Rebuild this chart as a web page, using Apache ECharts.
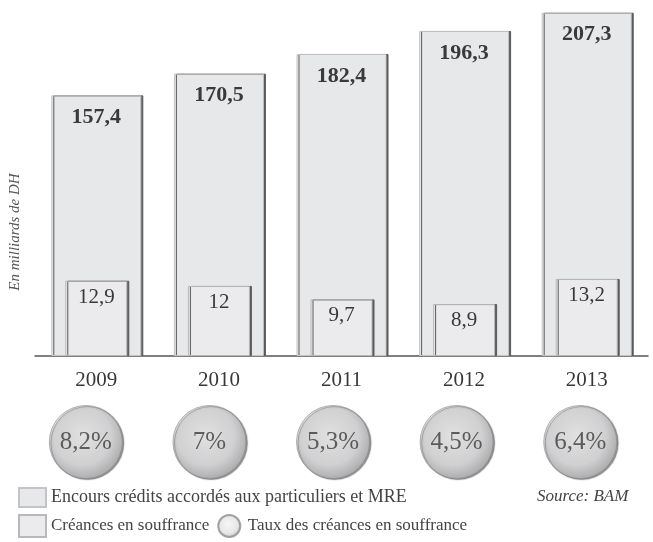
<!DOCTYPE html>
<html>
<head>
<meta charset="utf-8">
<script src="https://cdn.jsdelivr.net/npm/echarts@6/dist/echarts.min.js"></script>
<style>html,body{margin:0;padding:0;background:#fff}#c{width:653px;height:542px}</style>
</head>
<body>
<div id="c"></div>
<script>
const years = ['2009', '2010', '2011', '2012', '2013'];
const encours = [157.4, 170.5, 182.4, 196.3, 207.3];
const creances = [12.9, 12, 9.7, 8.9, 13.2];
const taux = [8.2, 7, 5.3, 4.5, 6.4];
const seriesNames = ['Encours crédits accordés aux particuliers et MRE', 'Créances en souffrance', 'Taux des créances en souffrance'];
const yAxisTitle = 'En milliards de DH';
const sourceText = 'Source: BAM';

const fmt = v => String(v).replace('.', ',');
const serif = '"Liberation Serif", "DejaVu Serif", serif';
const txt = '#383838';

const chart = echarts.init(document.getElementById('c'));
chart.setOption({
  backgroundColor: '#ffffff',
  animation: false,
  title: {
    text: sourceText, left: 532, top: 483,
    textStyle: { fontFamily: serif, fontStyle: 'italic', fontWeight: 'normal', fontSize: 17, color: '#444' }
  },
  legend: [
    { data: [{ name: seriesNames[0], icon: 'rect' }], left: 13, top: 482, itemWidth: 27, itemHeight: 19, selectedMode: false,
      textStyle: { fontFamily: serif, fontSize: 18, color: '#444', padding: [0, 0, 0, 0] } },
    { data: [{ name: seriesNames[1], icon: 'rect' }, { name: seriesNames[2] }], left: 13, top: 509, itemWidth: 27, itemHeight: 22, itemGap: 8, selectedMode: false,
      textStyle: { fontFamily: serif, fontSize: 17, color: '#444', padding: [0, 0, 0, 0] } }
  ],
  grid: [
    { left: 31, right: 5, top: 0, bottom: 186 },
    { left: 24, right: 11, top: 405, height: 74 }
  ],
  xAxis: [
    { type: 'category', gridIndex: 0, data: years,
      axisLine: { show: true, lineStyle: { color: '#555', width: 1.5 } },
      axisTick: { show: false },
      axisLabel: { fontFamily: serif, fontSize: 21, color: txt, margin: 14 } },
    { type: 'category', gridIndex: 0, data: years, show: false },
    { type: 'category', gridIndex: 1, data: years, show: false }
  ],
  yAxis: [
    { type: 'value', gridIndex: 0, min: 0, max: 215,
      axisLine: { show: false }, axisTick: { show: false }, axisLabel: { show: false }, splitLine: { show: false },
      name: yAxisTitle, nameLocation: 'middle', nameRotate: 90, nameGap: 12,
      nameTextStyle: { fontFamily: serif, fontStyle: 'italic', fontSize: 15, color: '#555', padding: [0, 108, 0, 0] } },
    { type: 'value', gridIndex: 0, min: 0, max: 61, show: false },
    { type: 'category', gridIndex: 1, data: ['taux'], show: false }
  ],
  series: [
    { name: seriesNames[0], type: 'bar', xAxisIndex: 0, yAxisIndex: 0, data: encours, barWidth: 90,
      itemStyle: { color: '#e7e8ea', borderColor: '#c4c4c6', borderWidth: 1,
        shadowColor: '#5a5a5a', shadowOffsetX: 2, shadowOffsetY: 0, shadowBlur: 0 },
      label: { show: true, position: 'insideTop', distance: 11, formatter: p => fmt(p.value),
        fontFamily: serif, fontWeight: 'bold', fontSize: 22, color: '#3a3a3a' } },
    { name: seriesNames[1], type: 'bar', xAxisIndex: 1, yAxisIndex: 1, data: creances, barWidth: 62,
      itemStyle: { color: '#ebebed', borderColor: '#b8b8ba', borderWidth: 1,
        shadowColor: '#5a5a5a', shadowOffsetX: 2, shadowOffsetY: 0, shadowBlur: 0 },
      label: { show: true, position: 'insideTop', distance: 6, formatter: p => fmt(p.value),
        fontFamily: serif, fontSize: 21, color: '#383838' } },
    { name: seriesNames[2], type: 'scatter', xAxisIndex: 2, yAxisIndex: 2, symbol: 'circle', symbolSize: 73,
      data: years.map((y, i) => [y, 'taux', taux[i]]),
      itemStyle: {
        color: { type: 'radial', x: 0.45, y: 0.42, r: 0.6,
          colorStops: [{ offset: 0, color: '#f4f4f5' }, { offset: 0.65, color: '#e0e0e2' }, { offset: 1, color: '#b0b0b2' }] },
        borderColor: '#8d8d8f', borderWidth: 0.8,
        shadowColor: 'rgba(60,60,60,0.7)', shadowOffsetX: 1.5, shadowOffsetY: 1, shadowBlur: 1 },
      label: { show: true, position: 'inside', formatter: p => fmt(p.value[2]) + '%',
        fontFamily: serif, fontSize: 25, color: '#3c3c3c' } }
  ]
});
</script>
</body>
</html>
